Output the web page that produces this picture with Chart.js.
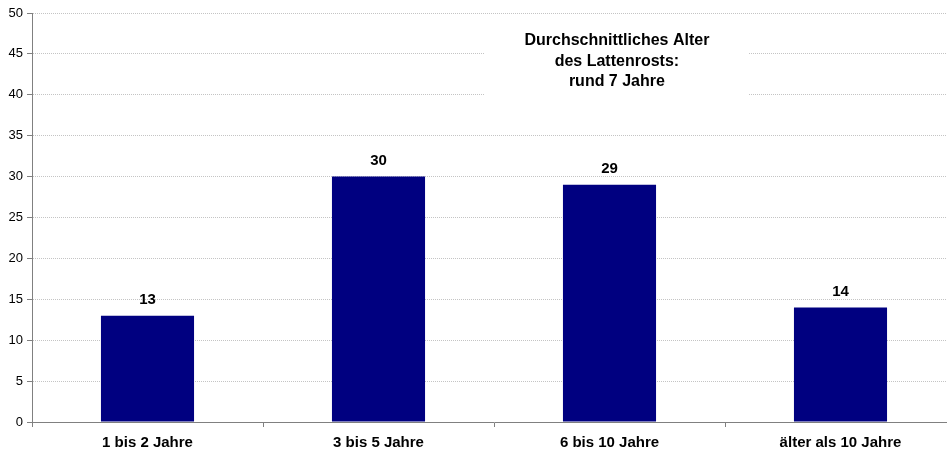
<!DOCTYPE html>
<html>
<head>
<meta charset="utf-8">
<script src="https://cdn.jsdelivr.net/npm/chart.js@4/dist/chart.umd.min.js"></script>
<style>
  html, body { margin: 0; padding: 0; background: #fff; overflow: hidden; }
  /* the original plot runs a little past the right edge of the picture */
  #wrap { position: relative; width: 960px; height: 453px; }
</style>
</head>
<body>
<div id="wrap"><canvas id="chart"></canvas></div>
<script>
const categories = ['1 bis 2 Jahre', '3 bis 5 Jahre', '6 bis 10 Jahre', 'älter als 10 Jahre'];
const values = [13, 30, 29, 14];
const noteLines = ['Durchschnittliches Alter', 'des Lattenrosts:', 'rund 7 Jahre'];

const FONT = "'Liberation Sans', Arial, sans-serif";

// value labels above each bar
const valueLabels = {
  id: 'valueLabels',
  afterDatasetsDraw(chart) {
    const ctx = chart.ctx;
    const meta = chart.getDatasetMeta(0);
    ctx.save();
    ctx.font = 'bold 15px ' + FONT;
    ctx.fillStyle = '#000';
    ctx.textAlign = 'center';
    ctx.textBaseline = 'middle';
    meta.data.forEach((bar, i) => {
      ctx.fillText(values[i], bar.x, bar.y - 16);
    });
    ctx.restore();
  }
};

// white note box over the upper gridlines
const noteBox = {
  id: 'noteBox',
  afterDatasetsDraw(chart) {
    const { ctx, chartArea: a } = chart;
    const w = a.right - a.left, h = a.bottom - a.top;
    const x0 = a.left + w * 0.490, x1 = a.left + w * 0.776;
    const y0 = a.top + h * 0.017, y1 = a.top + h * 0.213;
    ctx.save();
    ctx.fillStyle = '#fff';
    ctx.fillRect(x0, y0, x1 - x0, y1 - y0);
    ctx.font = 'bold 16px ' + FONT;
    ctx.fillStyle = '#000';
    ctx.textAlign = 'center';
    ctx.textBaseline = 'middle';
    const cx = (x0 + x1) / 2;
    noteLines.forEach((t, i) => ctx.fillText(t, cx, a.top + 28 + i * 20.5));
    ctx.restore();
  }
};

new Chart(document.getElementById('chart'), {
  type: 'bar',
  data: {
    labels: categories,
    datasets: [{
      data: values,
      backgroundColor: '#000080',
      barPercentage: 0.403,
      categoryPercentage: 1.0
    }]
  },
  options: {
    responsive: true,
    maintainAspectRatio: false,
    animation: false,
    layout: { padding: { top: 13, right: 4, left: 0, bottom: 0 } },
    plugins: {
      legend: { display: false },
      tooltip: { enabled: false }
    },
    scales: {
      x: {
        afterFit(s) { s.height = 31; },
        grid: {
          offset: true,
          drawOnChartArea: false,
          drawTicks: true,
          tickLength: 5,
          color: '#808080'
        },
        border: { color: '#808080', width: 1 },
        ticks: {
          color: '#000',
          font: { family: FONT, size: 15, weight: 'bold' },
          padding: 7,
          maxRotation: 0
        }
      },
      y: {
        min: 0,
        max: 50,
        afterFit(s) { s.width = 32; },
        grid: {
          color: '#c4c4c4',
          tickColor: '#808080',
          tickLength: 5,
          drawTicks: true
        },
        // dotted gridlines like the original
        border: { color: '#808080', width: 1, dash: [1, 1] },
        ticks: {
          stepSize: 5,
          color: '#000',
          font: { family: FONT, size: 13 },
          padding: 4
        }
      }
    }
  },
  plugins: [valueLabels, noteBox]
});
</script>
</body>
</html>
